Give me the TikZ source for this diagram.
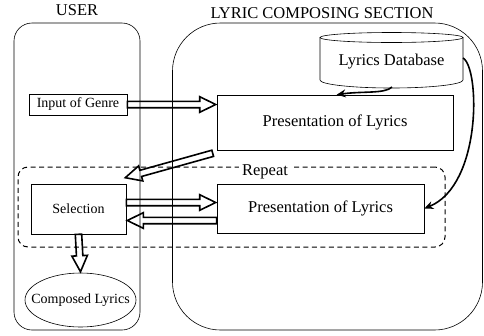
\documentclass[tikz,border=0pt]{standalone}
\usepackage{fontspec}
\setmainfont{Liberation Serif}
\usetikzlibrary{arrows.meta,calc,shapes.geometric}
\begin{document}
\begin{tikzpicture}[x=1pt,y=-1pt,
  line width=0.6pt,
  box/.style={draw, line width=0.6pt, inner sep=0pt},
  big/.style={font=\fontsize{16.5}{18}\selectfont},
  small/.style={font=\fontsize{14}{16}\selectfont},
  hollow/.style={draw, line width=1.6pt, line join=miter, miter limit=4,
    to path={
      ($(\tikztostart)!3.2pt!90:(\tikztotarget)$)
      -- ($($(\tikztotarget)!16pt!(\tikztostart)$)!3.2pt!-90:(\tikztostart)$)
      -- ($($(\tikztotarget)!16pt!(\tikztostart)$)!7.8pt!-90:(\tikztostart)$)
      -- (\tikztotarget)
      -- ($($(\tikztotarget)!16pt!(\tikztostart)$)!7.8pt!90:(\tikztostart)$)
      -- ($($(\tikztotarget)!16pt!(\tikztostart)$)!3.2pt!90:(\tikztostart)$)
      -- ($(\tikztostart)!3.2pt!-90:(\tikztotarget)$)
      -- cycle}},
  thickarrow/.style={line width=1.6pt, -{Stealth[length=9pt,width=8pt]}},
]
\useasboundingbox (0,0) rectangle (484,335);

% section boxes
\node[box, rounded corners=18pt, minimum width=126pt, minimum height=307pt] (user) at (77,176.5) {};
\node[box, rounded corners=48pt, minimum width=310pt, minimum height=307pt] (lcs) at (327.5,176.5) {};
\node[big, anchor=base] (userlbl) at (77,15) {USER};
\node[big, anchor=base] (lcslbl) at (322,18) {LYRIC COMPOSING SECTION};

% repeat region
\node[box, line width=1pt, dash pattern=on 5pt off 3.5pt, rounded corners=10pt, minimum width=427pt, minimum height=80pt] (rep) at (231.5,207) {};
\node[big, anchor=base, fill=white, inner sep=3pt] (replbl) at (265,175) {Repeat};

% database
\draw (391.5,37.5) ellipse [x radius=71.5pt, y radius=5pt];
\draw (320,37.5) -- (320,80) arc[start angle=180, end angle=360, x radius=71.5pt, y radius=8pt] -- (463,37.5);
\node[big] (db) at (391.5,62) {Lyrics Database};

% process boxes
\node[box, big, minimum width=236pt, minimum height=55pt] (pres1) at (335,122.5) {Presentation of Lyrics};
\node[box, big, minimum width=207pt, minimum height=49pt] (pres2) at (320.5,208.5) {Presentation of Lyrics};
\node[box, small, minimum width=98pt, minimum height=21pt] (genre) at (78,104.5) {Input of Genre};
\node[box, small, minimum width=95pt, minimum height=50pt] (sel) at (78.5,209) {Selection};
\draw (80.5,300) ellipse [x radius=55.5pt, y radius=27pt];
\node[small, inner sep=0pt, minimum height=54pt] (comp) at (80.5,300) {Composed Lyrics};

% database arrows
\coordinate (dbbot) at (392,87);
\coordinate (dbright) at (463,58);
\draw[thickarrow] (dbbot) .. controls (385,94) and (362,91) .. ($(pres1.north west)+(120,0)$);
\draw[thickarrow] (dbright) .. controls (480,68) and (482,185) .. (pres2.east);

% hollow arrow end points
\coordinate (a1s) at (genre.east);
\coordinate (a1e) at ($(genre.east -| pres1.west)+(-1,0)$);
\coordinate (a2s) at ($(pres1.south west)+(-4,3)$);
\coordinate (a2e) at ($(sel.north east)+(-1,-6)$);
\coordinate (a3s) at ($(sel.east)+(0,-6.5)$);
\coordinate (a3e) at ($(sel.east -| pres2.west)+(-1,-6.5)$);
\coordinate (a4s) at ($(sel.east -| pres2.west)+(0,11.5)$);
\coordinate (a4e) at ($(sel.east)+(1,11.5)$);
\coordinate (a5s) at (sel.south);
\coordinate (a5e) at ($(comp.north)+(0,-1)$);

% hollow arrows
\draw[hollow] (a1s) to (a1e);
\draw[hollow] (a2s) to (a2e);
\draw[hollow] (a3s) to (a3e);
\draw[hollow] (a4s) to (a4e);
\draw[hollow] (a5s) to (a5e);
\end{tikzpicture}
\end{document}
